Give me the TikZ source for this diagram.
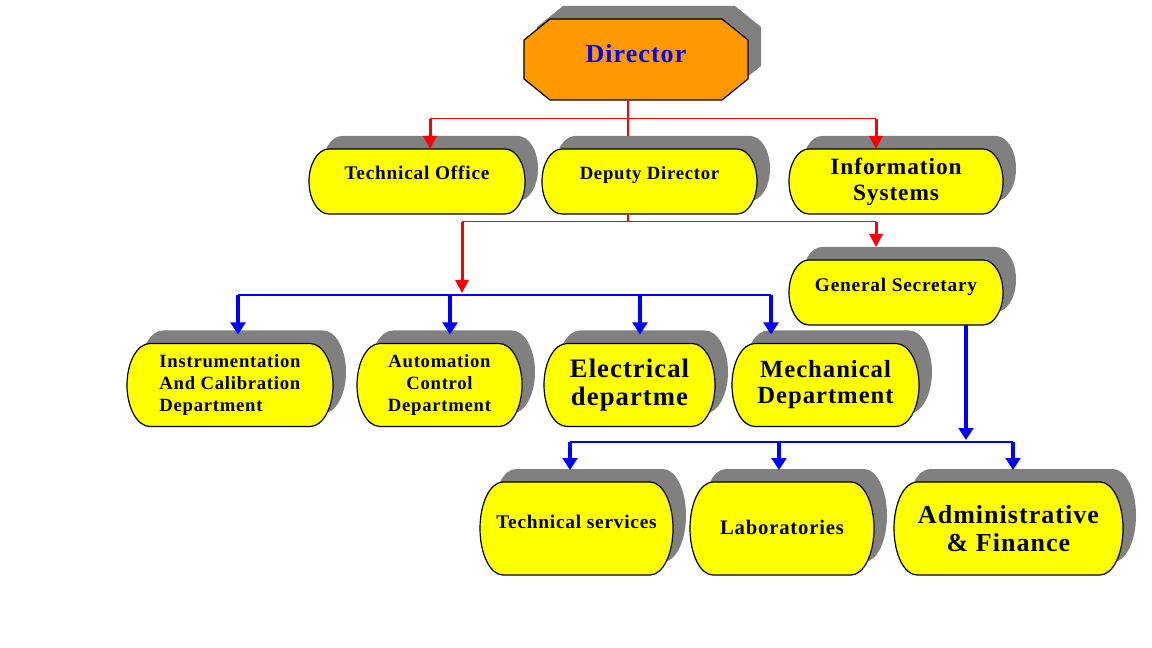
\documentclass[tikz,border=0pt]{standalone}
\usepackage{fontspec}
\setmainfont{Liberation Serif}[LetterSpace=4]
\usetikzlibrary{arrows.meta,backgrounds,positioning}

\definecolor{dirorange}{RGB}{255,153,0}
\definecolor{boxyellow}{RGB}{255,255,0}
\definecolor{shadowgray}{RGB}{128,128,128}
\definecolor{linkred}{RGB}{255,0,0}
\definecolor{linkblue}{RGB}{0,0,255}

\newcommand{\fs}[2]{\fontsize{#1}{#2}\selectfont}
% outline of a department box: node, corner x radius, half height
\newcommand{\deptpath}[3]{(#1.west) arc[start angle=180,end angle=90,x radius=#2,y radius=#3]
  -- ([xshift=-#2]#1.north east) arc[start angle=90,end angle=0,x radius=#2,y radius=#3]
  arc[start angle=0,end angle=-90,x radius=#2,y radius=#3]
  -- ([xshift=#2]#1.south west) arc[start angle=270,end angle=180,x radius=#2,y radius=#3] -- cycle}
% outline of the director box
\newcommand{\dirpath}[1]{([xshift=19.5pt]#1.north west) -- ([xshift=-19.5pt]#1.north east)
  -- ([yshift=-15.75pt]#1.north east) -- ([yshift=15.75pt]#1.south east)
  -- ([xshift=-19.5pt]#1.south east) -- ([xshift=19.5pt]#1.south west)
  -- ([yshift=15.75pt]#1.south west) -- ([yshift=-15.75pt]#1.north west) -- cycle}

\begin{document}
\begin{tikzpicture}[x=0.75pt,y=-0.75pt,
  deptnode/.style={rectangle,inner sep=0pt,outer sep=0pt,align=center},
  toprow/.style={deptnode,minimum height=48.75pt},
  midrow/.style={deptnode,minimum height=62.25pt},
  lowrow/.style={deptnode,minimum height=69.75pt},
  textbox/.style 2 args={text height=#1,text depth=#2},
  castshadow/.style={fill=shadowgray,transform canvas={shift={(9.75pt,9.75pt)}}},
  boxline/.style={draw=black,line width=0.9pt},
  redbar/.style={draw=linkred,line width=0.75pt},
  redtrunk/.style={draw=linkred,line width=1.5pt},
  redstem/.style={draw=linkred,line width=2.25pt,-{Triangle[length=9.75pt,width=9.75pt]}},
  bluebar/.style={draw=linkblue,line width=1.1pt},
  bluestem/.style={draw=linkblue,line width=2.4pt,-{Triangle[length=9pt,width=11pt]}},
]
\useasboundingbox (0,0) rectangle (1152,648);

% the director
\node[deptnode,minimum width=168pt,minimum height=60.75pt,text=linkblue,
  font={\bfseries\fs{19.5}{23}},textbox={5.25pt}{0pt}] (dir) at (636,59.5) {Director};

% first level
\node[toprow,minimum width=162pt,font={\bfseries\fs{14.5}{17}},textbox={0pt}{2.25pt}] (tech) at (417,181.5) {Technical Office};
\node[toprow,minimum width=161.25pt,font={\bfseries\fs{14}{17}},textbox={0pt}{2.25pt}] (dep) at (649.5,181.5) {Deputy Director};
\node[toprow,minimum width=160.5pt,font={\bfseries\fs{17.5}{19.5}}] (info) at (896,181.5) {Information\\Systems};
\node[toprow,minimum width=160.5pt,font={\bfseries\fs{14.5}{17}},textbox={0pt}{0.75pt}] (gensec) at (896,292.5) {General Secretary};

% the departments
\node[midrow,minimum width=154.5pt,align=left,font={\bfseries\fs{14}{16.5}}] (instr) at (230,385) {Instrumentation\\And Calibration\\Department};
\node[midrow,minimum width=123.75pt,font={\bfseries\fs{14}{16.5}}] (autom) at (439.5,385) {Automation\\Control\\Department};
\node[midrow,minimum width=128.25pt,font={\bfseries\fs{20}{21}}] (elec) at (629.5,385) {Electrical\\departme};
\node[midrow,minimum width=140.25pt,font={\bfseries\fs{18.5}{19.5}}] (mech) at (825.5,385) {Mechanical\\Department};

% under the general secretary
\node[lowrow,minimum width=144.75pt,font={\bfseries\fs{14.5}{17}},textbox={0pt}{0.75pt}] (tserv) at (576.5,528.5) {Technical services};
\node[lowrow,minimum width=138pt,font={\bfseries\fs{15.5}{18}},textbox={8.25pt}{0pt}] (labs) at (782,528.5) {Laboratories};
\node[lowrow,minimum width=171.75pt,font={\bfseries\fs{19.5}{21}}] (admin) at (1008.5,528.5) {Administrative\\\& Finance};

% the boxes behind the texts
\begin{scope}[on background layer]
\fill[white] (0,0) rectangle (1152,648);
\fill[castshadow] \dirpath{dir};
\filldraw[boxline,fill=dirorange] \dirpath{dir};
\foreach \n/\rx/\ry in {tech/15pt/24.375pt,dep/15pt/24.375pt,info/15pt/24.375pt,gensec/15pt/24.375pt,
    instr/17.25pt/31.125pt,autom/17.25pt/31.125pt,elec/17.25pt/31.125pt,mech/17.25pt/31.125pt,
    tserv/17.25pt/34.875pt,labs/17.25pt/34.875pt,admin/17.25pt/34.875pt}
  \fill[castshadow] \deptpath{\n}{\rx}{\ry};
\foreach \n/\rx/\ry in {tech/15pt/24.375pt,dep/15pt/24.375pt,info/15pt/24.375pt,gensec/15pt/24.375pt,
    instr/17.25pt/31.125pt,autom/17.25pt/31.125pt,elec/17.25pt/31.125pt,mech/17.25pt/31.125pt,
    tserv/17.25pt/34.875pt,labs/17.25pt/34.875pt,admin/17.25pt/34.875pt}
  \filldraw[boxline,fill=boxyellow] \deptpath{\n}{\rx}{\ry};
\end{scope}

% red links
\coordinate (rtop) at (628,119);
\coordinate (rleft) at (430,119);
\coordinate (rright) at (876,119);
\draw[redtrunk,shorten >=9.75pt] ([xshift=-6pt]dir.south) -- (rtop) -- (rtop |- dep.north);
\draw[redbar] (rleft) -- (rright);
\draw[redstem] (rleft) -- (rleft |- tech.north);
\draw[redstem] (rright) -- (rright |- info.north);

\coordinate (dtop) at (628,222);
\coordinate (dleft) at (462,222);
\coordinate (dright) at (876,222);
\draw[redtrunk] (dtop |- dep.south) -- (dtop);
\draw[redbar] (dleft) -- (dright);
\draw[redstem,shorten >=9.75pt] (dright) -- (dright |- gensec.north);

% blue links to the departments
\coordinate (bb1) at (238,295);
\coordinate (bb2) at (450,295);
\coordinate (bb3) at (640,295);
\coordinate (bb4) at (771,295);
\draw[redstem,shorten >=1.5pt] (dleft) -- (dleft |- bb1);
\draw[bluebar] (bb1) -- (bb4);
\foreach \i/\n in {1/instr,2/autom,3/elec,4/mech}
  \draw[bluestem,shorten >=6.75pt] (bb\i) -- (bb\i |- \n.north);

% blue links under the general secretary
\coordinate (gdrop) at (966,442);
\coordinate (gb1) at (570,442);
\coordinate (gb2) at (779,442);
\coordinate (gb3) at (1013,442);
\draw[bluestem,shorten >=1.5pt] (gdrop |- gensec.south) -- (gdrop);
\draw[bluebar] (gb1) -- (gb3);
\foreach \i/\n in {1/tserv,2/labs,3/admin}
  \draw[bluestem,shorten >=9pt] (gb\i) -- (gb\i |- \n.north);
\end{tikzpicture}
\end{document}
